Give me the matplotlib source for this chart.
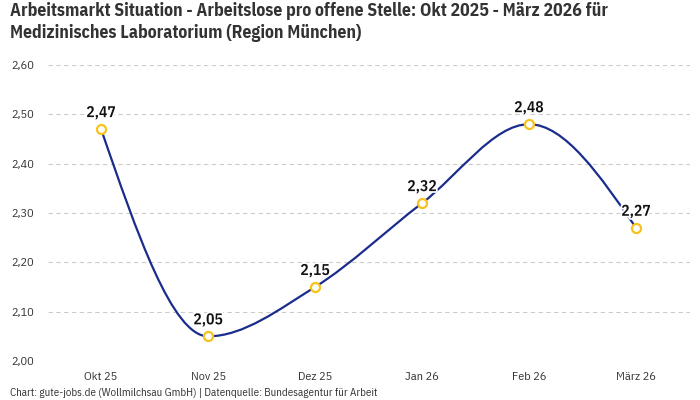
import matplotlib
matplotlib.use("Agg")
import matplotlib.pyplot as plt
import matplotlib.patheffects as pe
from matplotlib.path import Path
from matplotlib.patches import PathPatch
import numpy as np

months = ["Okt 25", "Nov 25", "Dez 25", "Jan 26", "Feb 26", "März 26"]
values = [2.47, 2.05, 2.15, 2.32, 2.48, 2.27]
value_labels = ["2,47", "2,05", "2,15", "2,32", "2,48", "2,27"]
y_ticks = [2.00, 2.10, 2.20, 2.30, 2.40, 2.50, 2.60]
y_tick_labels = ["2,00", "2,10", "2,20", "2,30", "2,40", "2,50", "2,60"]

title = ("Arbeitsmarkt Situation - Arbeitslose pro offene Stelle: Okt 2025 - März 2026 für\n"
         "Medizinisches Laboratorium (Region München)")
footer = "Chart: gute-jobs.de (Wollmilchsau GmbH) | Datenquelle: Bundesagentur für Arbeit"

LINE = "#1b2d8c"
MARK = "#f7c21b"
GRID = "#cccccc"
TXT = "#333333"
COND = ["IBM Plex Sans Condensed", "DejaVu Sans"]
plt.rcParams["font.family"] = COND


def monotone_slopes(x, y):
    # tangents like d3.curveMonotoneX
    n = len(x)
    t = [0.0] * n
    for i in range(1, n - 1):
        h0, h1 = x[i] - x[i - 1], x[i + 1] - x[i]
        s0, s1 = (y[i] - y[i - 1]) / h0, (y[i + 1] - y[i]) / h1
        p = (s0 * h1 + s1 * h0) / (h0 + h1)
        t[i] = (np.sign(s0) + np.sign(s1)) * min(abs(s0), abs(s1), 0.5 * abs(p))
    h = x[1] - x[0]
    t[0] = (3 * (y[1] - y[0]) / h - t[1]) / 2
    h = x[-1] - x[-2]
    t[-1] = (3 * (y[-1] - y[-2]) / h - t[-2]) / 2
    return t


fig = plt.figure(figsize=(7, 4), dpi=100)
ax = fig.add_axes([0.068, 0.0975, 0.917, 0.74])

x = list(range(len(months)))
m = monotone_slopes(x, values)
verts = [(x[0], values[0])]
codes = [Path.MOVETO]
for i in range(len(x) - 1):
    h = x[i + 1] - x[i]
    verts += [(x[i] + h / 3, values[i] + h * m[i] / 3),
              (x[i + 1] - h / 3, values[i + 1] - h * m[i + 1] / 3),
              (x[i + 1], values[i + 1])]
    codes += [Path.CURVE4] * 3
ax.add_patch(PathPatch(Path(verts, codes), facecolor="none", edgecolor=LINE, lw=1.6, zorder=3))

ax.plot(x, values, linestyle="none", marker="o", markersize=6.5, markerfacecolor="white",
        markeredgecolor=MARK, markeredgewidth=1.6, zorder=4)

for xi, v, lab in zip(x, values, value_labels):
    ax.annotate(lab, (xi, v), xytext=(0, 6.5), textcoords="offset points", ha="center",
                va="bottom", fontsize=11.2, fontweight="semibold", color="#111111", zorder=5,
                path_effects=[pe.withStroke(linewidth=2.5, foreground="white")])

ax.set_xlim(-0.5, len(months) - 0.5)
ax.set_ylim(2.0, 2.6)
ax.set_xticks(x)
ax.set_xticklabels(months, fontsize=8.8, color=TXT)
ax.set_yticks(y_ticks)
ax.set_yticklabels(y_tick_labels, fontsize=8.8, color=TXT)
ax.tick_params(length=0)
ax.tick_params(axis="y", pad=10)
ax.tick_params(axis="x", pad=8)
ax.grid(axis="y", color=GRID, linestyle=(0, (4, 3)), linewidth=0.8)
ax.set_axisbelow(True)
for s in ax.spines.values():
    s.set_visible(False)

fig.text(0.014, 0.995, title, ha="left", va="top", fontsize=12.75, fontweight="bold",
         color=TXT, linespacing=1.32)
fig.text(0.014, 0.006, footer, ha="left", va="bottom", fontsize=7.9, color=TXT)

fig.savefig("out.png", dpi=100)
